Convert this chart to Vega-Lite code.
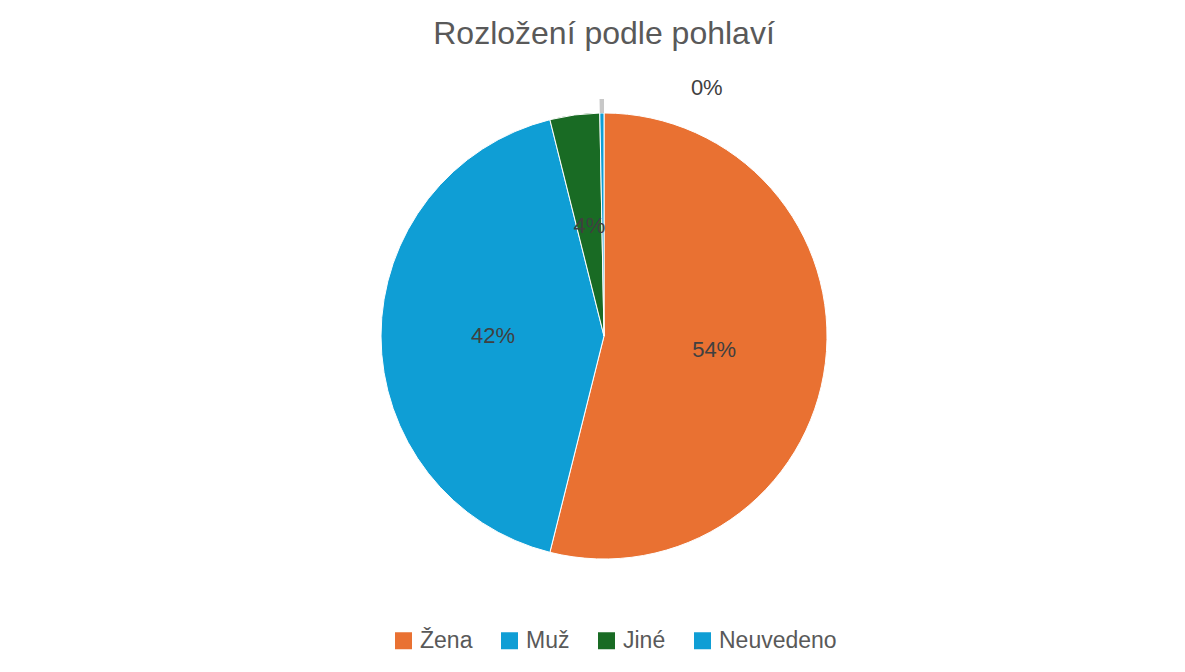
{
  "$schema": "https://vega.github.io/schema/vega-lite/v6.json",
  "width": 1190,
  "height": 650,
  "autosize": {"type": "none"},
  "padding": {"left": 9, "top": 11, "right": 0, "bottom": 0},
  "background": "white",
  "config": {
    "view": {"stroke": "#e3e3e3", "strokeWidth": 2},
    "font": "Liberation Sans"
  },
  "title": {
    "text": "Rozložení podle pohlaví",
    "fontSize": 32,
    "font": "Liberation Sans",
    "fontWeight": "normal",
    "color": "#595959",
    "offset": -40,
    "anchor": "middle"
  },
  "data": {
    "values": [
      {"g": "Žena", "v": 0.539, "i": 1},
      {"g": "Muž", "v": 0.422, "i": 2},
      {"g": "Jiné", "v": 0.036, "i": 3},
      {"g": "Neuvedeno", "v": 0.003, "i": 4}
    ]
  },
  "encoding": {
    "theta": {"field": "v", "type": "quantitative", "stack": true},
    "order": {"field": "i", "type": "quantitative"}
  },
  "layer": [
    {
      "mark": {"type": "arc", "radius": 223, "stroke": "white", "strokeWidth": 1},
      "encoding": {
        "color": {
          "field": "g",
          "type": "nominal",
          "scale": {
            "domain": ["Žena", "Muž", "Jiné", "Neuvedeno"],
            "range": ["#E97132", "#0F9ED5", "#196B24", "#0F9ED5"]
          },
          "legend": {
            "title": null,
            "orient": "none",
            "direction": "horizontal",
            "legendX": 383,
            "legendY": 618,
            "symbolType": "square",
            "symbolSize": 289,
            "symbolStrokeWidth": 0,
            "labelFontSize": 23,
            "labelFont": "Liberation Sans",
            "labelColor": "#595959",
            "labelOffset": 5,
            "columnPadding": 25
          }
        }
      }
    },
    {
      "mark": {"type": "arc", "radius": 223, "radius2": 237},
      "encoding": {
        "fill": {"condition": {"test": "datum.g === 'Neuvedeno'", "value": "#c8c8c8"}, "value": "transparent"}
      }
    },
    {
      "mark": {"type": "text", "radius": 111, "fontSize": 22, "font": "Liberation Sans", "color": "#404040"},
      "encoding": {
        "text": {"condition": {"test": "datum.g !== 'Neuvedeno'", "field": "v", "format": ".0%"}, "value": ""}
      }
    },
    {
      "mark": {"type": "text", "radius": 237, "dx": 105, "dy": -11, "fontSize": 22, "font": "Liberation Sans", "color": "#404040"},
      "encoding": {
        "text": {"condition": {"test": "datum.g === 'Neuvedeno'", "field": "v", "format": ".0%"}, "value": ""}
      }
    }
  ]
}
